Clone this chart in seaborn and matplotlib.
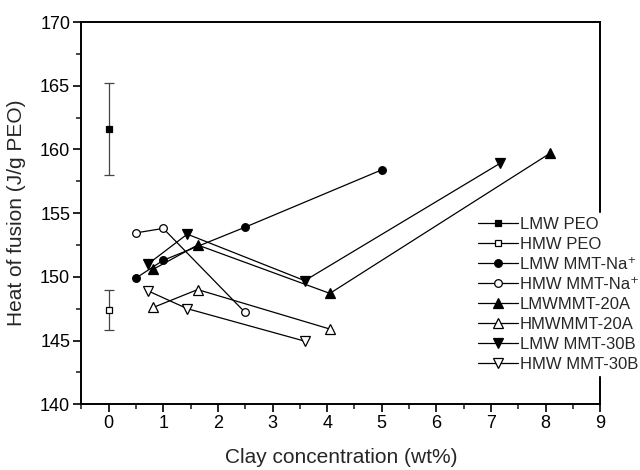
import matplotlib
matplotlib.use("Agg")
import matplotlib.pyplot as plt
import seaborn as sns
import pandas as pd
from matplotlib.ticker import MultipleLocator

sns.set_style("ticks")
plt.rcParams['font.family'] = ['Liberation Sans', 'DejaVu Sans']

labels = ["LMW PEO", "HMW PEO", "LMW MMT-Na\u207a", "HMW MMT-Na\u207a",
          "LMWMMT-20A", "HMWMMT-20A", "LMW MMT-30B", "HMW MMT-30B"]
markers = ["s", "s", "o", "o", "^", "^", "v", "v"]
filled = [True, False, True, False, True, False, True, False]

x_lmw_peo = [0.0]
y_lmw_peo = [161.6]
err_lmw_peo = [3.6]
x_hmw_peo = [0.0]
y_hmw_peo = [147.4]
err_hmw_peo = [1.55]
x_lmw_na = [0.5, 1.0, 2.5, 5.0]
y_lmw_na = [149.9, 151.3, 153.9, 158.4]
x_hmw_na = [0.5, 1.0, 2.5]
y_hmw_na = [153.45, 153.8, 147.2]
x_lmw_20a = [0.82, 1.63, 4.05, 8.08]
y_lmw_20a = [150.6, 152.5, 148.7, 159.7]
x_hmw_20a = [0.82, 1.63, 4.05]
y_hmw_20a = [147.6, 149.0, 145.9]
x_lmw_30b = [0.72, 1.44, 3.59, 7.16]
y_lmw_30b = [151.0, 153.35, 149.7, 158.9]
x_hmw_30b = [0.72, 1.44, 3.59]
y_hmw_30b = [148.9, 147.5, 144.95]

xs = [x_lmw_peo, x_hmw_peo, x_lmw_na, x_hmw_na, x_lmw_20a, x_hmw_20a, x_lmw_30b, x_hmw_30b]
ys = [y_lmw_peo, y_hmw_peo, y_lmw_na, y_hmw_na, y_lmw_20a, y_hmw_20a, y_lmw_30b, y_hmw_30b]

fig = plt.figure(figsize=(6.4, 4.7), dpi=100)
ax = fig.add_axes([0.127, 0.140, 0.811, 0.813])

# error bars for pure PEO
ax.errorbar(x_lmw_peo, y_lmw_peo, yerr=err_lmw_peo, fmt="none", ecolor="#444444",
            elinewidth=0.9, capsize=3.5, capthick=0.9, zorder=2)
ax.errorbar(x_hmw_peo, y_hmw_peo, yerr=err_hmw_peo, fmt="none", ecolor="#444444",
            elinewidth=0.9, capsize=3.5, capthick=0.9, zorder=2)

sizes = {"s": 5.0, "o": 5.5, "^": 6.5, "v": 6.5}
for x, y, lab, m, f in zip(xs, ys, labels, markers, filled):
    df = pd.DataFrame({"x": x, "y": y})
    sns.lineplot(data=df, x="x", y="y", ax=ax, sort=False, color="black", lw=0.9,
                 marker=m, markersize=sizes[m], markerfacecolor="black" if f else "white",
                 markeredgecolor="black", markeredgewidth=0.9, label=lab, zorder=3)

ax.set_xlim(-0.5, 9)
ax.set_ylim(140, 170)
ax.xaxis.set_major_locator(MultipleLocator(1))
ax.xaxis.set_minor_locator(MultipleLocator(0.5))
ax.yaxis.set_major_locator(MultipleLocator(5))
ax.yaxis.set_minor_locator(MultipleLocator(2.5))
ax.tick_params(axis="both", which="major", direction="out", length=6, width=1.2,
               labelsize=13, colors="black", top=False, right=False, pad=2)
ax.tick_params(axis="both", which="minor", direction="out", length=3.5, width=1.2,
               top=False, right=False)
for s in ax.spines.values():
    s.set_linewidth(1.4)
    s.set_color("black")

ax.set_xlabel("Clay concentration (wt%)", fontsize=15, labelpad=11)
ax.set_ylabel("Heat of fusion (J/g PEO)", fontsize=15, labelpad=10)

leg = ax.legend(loc="center left", bbox_to_anchor=(0.757, 0.288), frameon=True,
                fontsize=12, handlelength=2.4, handletextpad=0.15, labelspacing=0.3,
                borderpad=0.2, borderaxespad=0)
leg.get_frame().set_edgecolor("white")
leg.get_frame().set_facecolor("white")
leg.get_frame().set_alpha(1)
leg.set_zorder(5)

fig.savefig("out.png", dpi=100)
